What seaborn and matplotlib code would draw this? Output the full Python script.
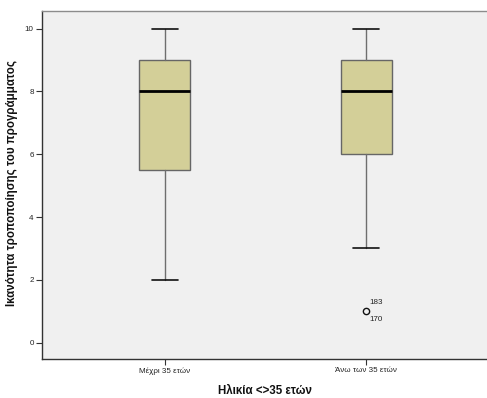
import matplotlib
matplotlib.use("Agg")
import matplotlib.pyplot as plt
import seaborn as sns

# Five-number summaries per age group (Tukey hinges)
groups = ["Μέχρι 35 ετών", "Άνω των 35 ετών"]
whisker_low = [2, 3]
q1 = [5.5, 6]
median = [8, 8]
q3 = [9, 9]
whisker_high = [10, 10]
outlier_values = [[], [1]]
outlier_ids = [[], ["183", "170"]]

yticks = [0, 2, 4, 6, 8, 10]
xlabel = "Ηλικία <>35 ετών"
ylabel = "Ικανότητα τροποποίησης του προγράμματος"

sns.set_theme(style="white")
plt.rcParams["font.family"] = ["Liberation Sans", "DejaVu Sans"]

fig = plt.figure(figsize=(4.87, 3.98), dpi=100)
ax = fig.add_axes([42 / 487, 1 - 359 / 398, 1 - 42 / 487, (359 - 11) / 398])
ax.set_facecolor("#F0F0F0")

stats = []
for i, g in enumerate(groups):
    stats.append(dict(label=g, whislo=whisker_low[i], q1=q1[i], med=median[i],
                      q3=q3[i], whishi=whisker_high[i], fliers=outlier_values[i]))

ax.bxp(stats, positions=range(len(groups)), widths=0.253, patch_artist=True,
       boxprops=dict(facecolor="#D3CF98", edgecolor="#666666", linewidth=1.0),
       medianprops=dict(color="#000000", linewidth=2.0),
       whiskerprops=dict(color="#6E6E6E", linewidth=1.0),
       capprops=dict(color="#111111", linewidth=1.2),
       capwidths=0.13,
       flierprops=dict(marker="o", markersize=4.5, markerfacecolor="none",
                       markeredgecolor="#111111", markeredgewidth=1.0))

for i, vals in enumerate(outlier_values):
    for v in vals:
        ids = outlier_ids[i]
        ax.annotate(ids[0], (i, v), xytext=(2, 6), textcoords="offset points",
                    fontsize=5.8, color="#222222", ha="left", va="center")
        ax.annotate(ids[1], (i, v), xytext=(2, -6), textcoords="offset points",
                    fontsize=5.8, color="#222222", ha="left", va="center")

ax.set_xlim(-0.61, 1.60)
ax.set_ylim(-0.52, 10.56)
ax.set_yticks(yticks)
ax.set_yticklabels([str(t) for t in yticks])
ax.set_xticks(range(len(groups)))
ax.set_xticklabels(groups)
ax.tick_params(axis="both", which="both", length=4, width=0.8, color="#333333",
               labelsize=5.8, labelcolor="#222222", pad=2, direction="out",
               left=True, bottom=True)

ax.spines["right"].set_visible(False)
ax.spines["top"].set_color("#8C8C8C")
ax.spines["top"].set_linewidth(1.0)
for side in ["left", "bottom"]:
    ax.spines[side].set_color("#333333")
    ax.spines[side].set_linewidth(1.0)

ax.set_xlabel(xlabel, fontsize=8.3, fontweight="bold", color="#111111")
ax.xaxis.set_label_coords(0.5, -(385 - 359) / 348)
ax.set_ylabel(ylabel, fontsize=8.3, fontweight="bold", color="#111111")
ax.yaxis.set_label_coords(-(42 - 18) / (487 - 42), (359 - 183) / 348)

fig.savefig("out.png", dpi=100, facecolor="white")
